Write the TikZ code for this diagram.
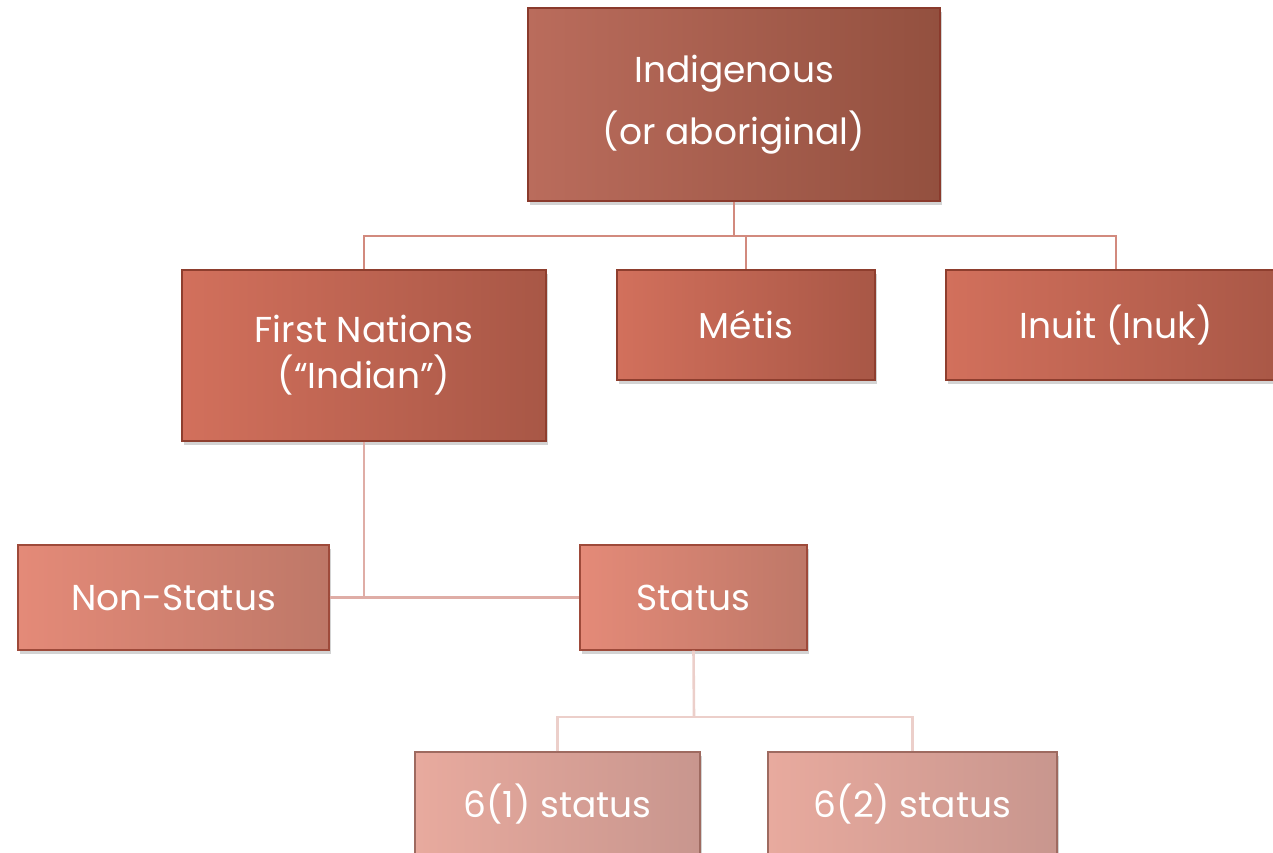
\documentclass[tikz,border=0pt]{standalone}
\usepackage{fontspec}
\setmainfont{Poppins}
\usetikzlibrary{shadows}
\definecolor{lineA}{HTML}{D28A7E}
\definecolor{lineB}{HTML}{DFADA6}
\definecolor{lineC}{HTML}{ECCFCA}
\definecolor{HTML8A3A2C}{HTML}{8A3A2C}
\definecolor{HTMLBA6C5C}{HTML}{BA6C5C}
\definecolor{HTML93503F}{HTML}{93503F}
\definecolor{HTML8E3E2E}{HTML}{8E3E2E}
\definecolor{HTMLD2705C}{HTML}{D2705C}
\definecolor{HTMLA85746}{HTML}{A85746}
\definecolor{HTML9E4A3A}{HTML}{9E4A3A}
\definecolor{HTMLE48A78}{HTML}{E48A78}
\definecolor{HTMLBE7868}{HTML}{BE7868}
\definecolor{HTML9E6A60}{HTML}{9E6A60}
\definecolor{HTMLE8AA9E}{HTML}{E8AA9E}
\definecolor{HTMLC8968E}{HTML}{C8968E}
\tikzset{
  box/.style={draw, line width=1.3pt, text=white, align=center, inner sep=0pt,
    drop shadow={opacity=0.35, shadow xshift=2pt, shadow yshift=-4pt}},
  lvA/.style={box, draw=HTML8A3A2C, left color=HTMLBA6C5C, right color=HTML93503F},
  lvB/.style={box, draw=HTML8E3E2E, left color=HTMLD2705C, right color=HTMLA85746},
  lvC/.style={box, draw=HTML9E4A3A, left color=HTMLE48A78, right color=HTMLBE7868},
  lvD/.style={box, draw=HTML9E6A60, left color=HTMLE8AA9E, right color=HTMLC8968E},
  txt/.style={font=\fontsize{36}{46}\selectfont},
  conA/.style={draw=lineA, line width=2.6pt},
  conB/.style={draw=lineB, line width=2.6pt},
  conC/.style={draw=lineC, line width=2.6pt},
}
\begin{document}
\begin{tikzpicture}[x=1pt,y=-1pt]
\useasboundingbox (0,0) rectangle (1273,853);
% nodes
\node[lvA, minimum width=412pt, minimum height=193pt, font=\fontsize{36}{62}\selectfont] (ind) at (734,104.5) {Indigenous\\(or aboriginal)};
\node[lvB, txt, minimum width=364pt, minimum height=171pt] (fn) at (364,355.5) {First Nations\\(“Indian”)};
\node[lvB, txt, minimum width=258pt, minimum height=110pt] (metis) at (746,325) {Métis};
\node[lvB, txt, minimum width=340pt, minimum height=110pt] (inuit) at (1116,325) {Inuit (Inuk)};
\node[lvC, txt, minimum width=311pt, minimum height=105pt] (non) at (173.5,597.5) {Non-Status};
\node[lvC, txt, minimum width=227pt, minimum height=105pt] (status) at (693.5,597.5) {Status};
\node[lvD, txt, minimum width=285pt, minimum height=105pt] (s61) at (557.5,804.5) {6(1) status};
\node[lvD, txt, minimum width=289pt, minimum height=105pt] (s62) at (912.5,804.5) {6(2) status};
% junctions
\coordinate (j1) at (734,236);
\coordinate (j2) at (364,597.5);
\coordinate (j3) at (694,717);
% connectors
\draw[conA] (ind.south) -- (j1);
\draw[conA] (fn.north) |- (j1) -| (inuit.north);
\draw[conA] (j1) -| (metis.north);
\draw[conB] (fn.south) -- (j2);
\draw[conB] (non.east) -- (status.west);
\draw[conC] (status.south) -- (j3);
\draw[conC] (s61.north) |- (j3) -| (s62.north);
\end{tikzpicture}
\end{document}
